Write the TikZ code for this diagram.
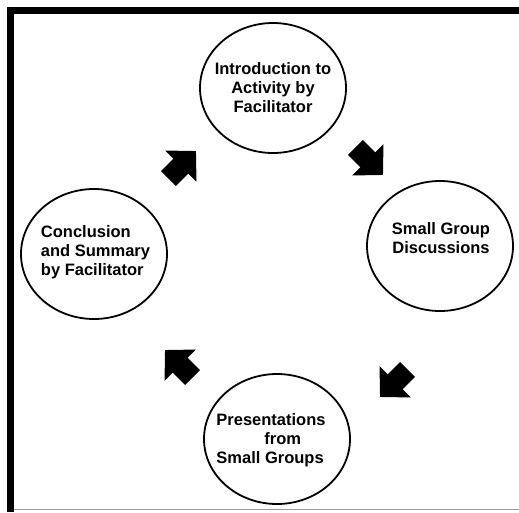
\documentclass[tikz,border=0pt]{standalone}
\usepackage{fontspec}
\setmainfont{Liberation Sans}
\usepackage{tikz}
\usetikzlibrary{positioning, shapes.geometric, arrows.meta}

\begin{document}
\begin{tikzpicture}
[
x=1pt, y=-1pt,
ring/.style={ellipse, draw, line width=1.8pt, minimum width=146pt, minimum height=130pt},
text-a/.style={black, font=\bfseries\fontsize{16.5}{19}\selectfont, inner sep=0pt},
blk-arrow/.style={line width=21pt, -{Triangle[length=21.5pt, width=43pt]}}
]

\useasboundingbox (0,0) rectangle (519,512);
\draw [line width=6.5pt] (519,10.3) -- (10.6,10.3) -- (10.6,512);
\draw [black!40, line width=1pt] (14,509.5) -- (519,509.5);

\node (ring-intro)    [ring] at (273, 88)  {};
\node (ring-groups)   [ring] at (440, 246) {};
\node (ring-present)  [ring] at (277, 439) {};
\node (ring-concl)    [ring] at (94, 254)  {};

\node (text-intro)    [text-a, align=center] at (ring-intro)   {Introduction to\\Activity by\\Facilitator};
\node (text-groups)   [text-a, align=center] at (441, 238)     {Small Group\\ Discussions};
\node (text-present)  [text-a, align=left]   at (271, 440)     {Presentations\\\hspace*{48pt}from\\Small Groups};
\node (text-concl)    [text-a, align=left]   at (95.5, 252)    {Conclusion\\and Summary\\by Facilitator};

\coordinate (arrow-1-a) at (355.4, 147.4);
\coordinate (arrow-1-b) at (383, 175);
\coordinate (arrow-2-a) at (407.6, 369.4);
\coordinate (arrow-2-b) at (380, 397);
\coordinate (arrow-3-a) at (192.6, 377.6);
\coordinate (arrow-3-b) at (165, 350);
\coordinate (arrow-4-a) at (168.4, 178.6);
\coordinate (arrow-4-b) at (196, 151);

\draw [blk-arrow] (arrow-1-a) -- (arrow-1-b);
\draw [blk-arrow] (arrow-2-a) -- (arrow-2-b);
\draw [blk-arrow] (arrow-3-a) -- (arrow-3-b);
\draw [blk-arrow] (arrow-4-a) -- (arrow-4-b);

\end{tikzpicture}
\end{document}
